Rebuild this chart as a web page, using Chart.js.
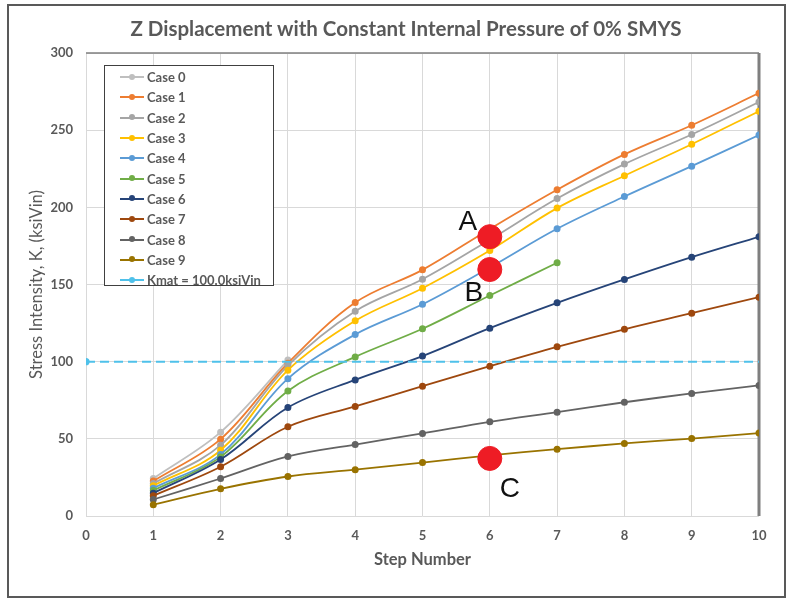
<!DOCTYPE html>
<html>
<head>
<meta charset="utf-8">
<title>Z Displacement with Constant Internal Pressure of 0% SMYS</title>
<script src="https://cdn.jsdelivr.net/npm/chart.js@4.4.1/dist/chart.umd.min.js"></script>
<style>
  html, body { margin: 0; padding: 0; background: #fff; }
  #wrap { position: relative; width: 787px; height: 599px; overflow: hidden; }
  #chart { position: absolute; left: 0; top: 0; }
  #frame { position: absolute; left: 7px; top: 4px; width: 775px; height: 590px; border: 2px solid #595959; pointer-events: none; }
  #title { position: absolute; left: 0; top: 16px; width: 812px; text-align: center; font: bold 20.5px Lato, "Open Sans", sans-serif; color: #595959; }
  #legend { position: absolute; left: 104px; top: 65px; width: 170px; height: 221px; box-sizing: border-box; border: 1px solid #404040; background: #fff; padding-top: 1px; }
  .item { height: 20.3px; display: flex; align-items: center; font: bold 13px Lato, sans-serif; color: #595959; }
  .swatch { position: relative; width: 24px; height: 2px; margin: 0 3px 0 15px; }
  .swatch i { position: absolute; left: 9px; top: -2.5px; width: 6px; height: 6px; border-radius: 50%; background: inherit; }
</style>
</head>
<body>
<div id="wrap">
  <canvas id="chart" width="787" height="599"></canvas>
  <div id="title">Z Displacement with Constant Internal Pressure of 0% SMYS</div>
  <div id="legend"></div>
  <div id="frame"></div>
</div>
<script>
  // Stress intensity per load step, one list per case
  const steps = [1, 2, 3, 4, 5, 6, 7, 8, 9, 10];
  const case0 = [24.3, 54.3, 101];
  const case1 = [22.6, 49.8, 99, 138.3, 159.5, 186, 211.4, 234.3, 253.2, 274];
  const case2 = [21, 45.9, 97.5, 132.7, 153.4, 179, 205.7, 228, 247.2, 268.2];
  const case3 = [19.6, 42.6, 94.5, 126.5, 147.6, 172, 199.5, 220.5, 240.9, 262.3];
  const case4 = [18, 39.9, 89, 117.6, 137.2, 161, 186.1, 207, 226.7, 246.8];
  const case5 = [16.5, 38.3, 81, 103.1, 121.3, 142.9, 164.1];
  const case6 = [14.8, 36.6, 70.3, 88.2, 103.6, 121.7, 138.1, 153.3, 167.7, 180.9];
  const case7 = [13.1, 31.9, 57.8, 71, 84.1, 97.1, 109.6, 121, 131.4, 141.8];
  const case8 = [10.7, 24.3, 38.6, 46.3, 53.5, 61, 67.3, 73.7, 79.4, 84.6];
  const case9 = [7.3, 17.6, 25.6, 30, 34.6, 39.3, 43.3, 47, 50.2, 53.7];

  // material toughness limit, drawn across the whole step range
  const kmatSteps = [0, 10];
  const kmatValues = [100, 100];

  // highlighted points A, B, C
  const markLabels = ["A", "B", "C"];
  const markSteps = [6, 6, 6];
  const markValues = [181, 159.7, 37.3];

  const caseNames = ["Case 0", "Case 1", "Case 2", "Case 3", "Case 4", "Case 5", "Case 6", "Case 7", "Case 8", "Case 9"];
  const caseValues = [case0, case1, case2, case3, case4, case5, case6, case7, case8, case9];
  const caseColors = ["#bfbfbf", "#ed7d31", "#a5a5a5", "#ffc000", "#5b9bd5", "#70ad47", "#264478", "#9e480e", "#636363", "#997300"];

  const ink = "#595959";
  const font = "Lato, 'Open Sans', sans-serif";

  const xy = (xs, ys) => ys.map((y, i) => ({ x: xs[i], y }));

  const datasets = caseNames.map((name, i) => ({
    label: name,
    data: xy(steps, caseValues[i]),
    borderColor: caseColors[i],
    backgroundColor: caseColors[i],
    borderWidth: 1.8,
    pointRadius: 2.6,
    pointHoverRadius: 3,
    tension: 0.35,
    order: -i,
  }));

  datasets.push({
    label: "Kmat = 100.0ksiVin",
    data: xy(kmatSteps, kmatValues),
    borderColor: "#4fc1ea",
    backgroundColor: "#4fc1ea",
    borderWidth: 2,
    borderDash: [9, 5],
    pointRadius: [2.6, 0],
    order: -10,
  });

  datasets.push({
    label: "marks",
    data: xy(markSteps, markValues),
    showLine: false,
    backgroundColor: "#ee1c25",
    borderColor: "#ee1c25",
    pointRadius: 12,
    pointHoverRadius: 12,
    order: -20,
    hideInLegend: true,
  });

  // plot frame: darker top edge and heavy right edge
  const plotFrame = {
    id: "plotFrame",
    beforeDatasetsDraw(chart) {
      const { ctx, chartArea: a } = chart;
      ctx.save();
      ctx.strokeStyle = "#7f7f7f";
      ctx.lineWidth = 1.5;
      ctx.beginPath();
      ctx.moveTo(a.left, a.top);
      ctx.lineTo(a.right, a.top);
      ctx.stroke();
      ctx.lineWidth = 3;
      ctx.beginPath();
      ctx.moveTo(a.right, a.top);
      ctx.lineTo(a.right, a.bottom);
      ctx.stroke();
      ctx.restore();
    },
  };

  // letters next to the red marks
  const markText = {
    id: "markText",
    afterDatasetsDraw(chart) {
      const { ctx } = chart;
      const meta = chart.getDatasetMeta(chart.data.datasets.length - 1);
      const shift = [[-22, -14], [-16, 24], [20, 31]];
      ctx.save();
      ctx.font = "28px 'Liberation Sans', Arial, sans-serif";
      ctx.fillStyle = "#111";
      ctx.textAlign = "center";
      ctx.textBaseline = "middle";
      meta.data.forEach((pt, i) => {
        ctx.fillText(markLabels[i], pt.x + shift[i][0], pt.y + shift[i][1]);
      });
      ctx.restore();
    },
  };

  const chart = new Chart(document.getElementById("chart"), {
    type: "line",
    data: { datasets },
    options: {
      responsive: false,
      animation: false,
      devicePixelRatio: 1,
      layout: { padding: { top: 53, right: 28, left: 0, bottom: 0 } },
      plugins: { legend: { display: false }, title: { display: false }, tooltip: { enabled: false } },
      scales: {
        x: {
          type: "linear",
          min: 0,
          max: 10,
          afterFit: (scale) => { scale.height = 83; },
          border: { display: false },
          grid: { color: "#d9d9d9", drawTicks: false },
          ticks: { stepSize: 1, padding: 12, color: ink, font: { family: font, size: 13, weight: "bold" } },
          title: { display: true, text: "Step Number", color: ink, padding: { bottom: 29 }, font: { family: font, size: 16.5, weight: "bold" } },
        },
        y: {
          min: 0,
          max: 300,
          afterFit: (scale) => { scale.width = 86; },
          border: { display: false },
          grid: { color: "#d9d9d9", drawTicks: false },
          ticks: { stepSize: 50, padding: 13, color: ink, font: { family: font, size: 13, weight: "bold" } },
          title: { display: true, text: "Stress Intensity, K, (ksiVin)", color: ink, padding: { top: 27 }, font: { family: font, size: 16.5 } },
        },
      },
    },
    plugins: [plotFrame, markText],
  });

  // legend box inside the plot
  document.getElementById("legend").innerHTML = chart.data.datasets
    .filter((ds) => !ds.hideInLegend)
    .map((ds) => `<div class="item"><span class="swatch" style="background:${ds.borderColor}"><i></i></span>${ds.label}</div>`)
    .join("");
</script>
</body>
</html>
